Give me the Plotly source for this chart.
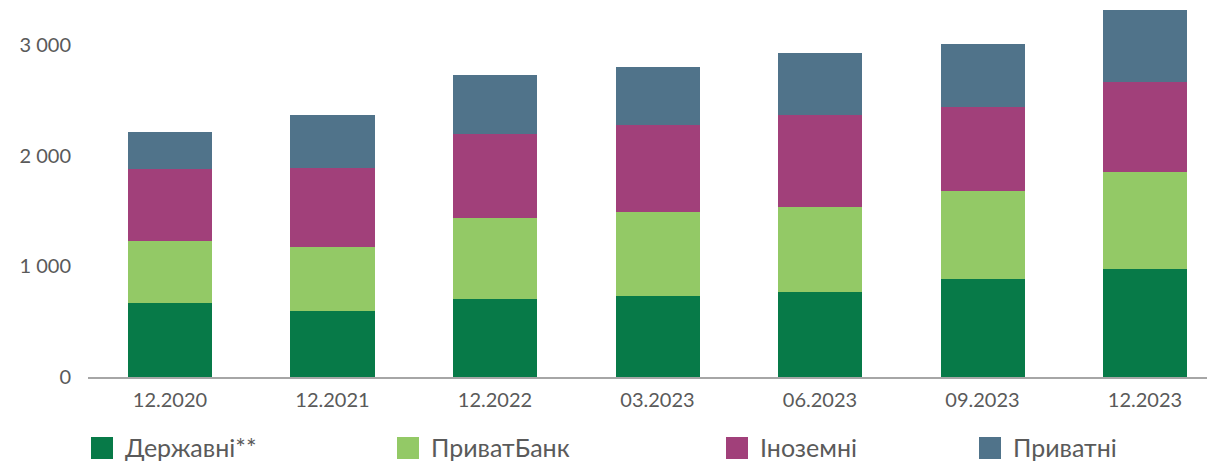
import plotly.graph_objects as go

categories = ["12.2020", "12.2021", "12.2022", "03.2023", "06.2023", "09.2023", "12.2023"]
series_names = ["Державні**", "ПриватБанк", "Іноземні", "Приватні"]
derzhavni = [669, 596, 705, 732, 768, 886, 979]
privatbank = [563, 578, 735, 756, 768, 795, 874]
inozemni = [645, 711, 756, 786, 829, 756, 813]
pryvatni = [337, 482, 533, 530, 566, 572, 651]
y_ticks = [0, 1000, 2000, 3000]

colors = ["#077A48", "#93C966", "#A1407A", "#50738A"]
values = [derzhavni, privatbank, inozemni, pryvatni]

W, H = 1207, 461
L, R, T, B = 88, 0, 0, 84
PW, PH = W - L - R, H - T - B
FONT = "Lato"
TXT = "#5A5A5A"

fig = go.Figure()
for name, vals, col in zip(series_names, values, colors):
    fig.add_trace(go.Bar(x=categories, y=vals, name=name, marker_color=col,
                         marker_line_width=0, width=0.517, showlegend=False,
                         hoverinfo="skip"))

def px_x(px):
    return (px - L) / PW

def px_y(py):
    return (H - B - py) / PH

# manual legend
sq_x = [91, 397, 726, 979]
for name, col, x0 in zip(series_names, colors, sq_x):
    fig.add_shape(type="rect", xref="paper", yref="paper",
                  x0=px_x(x0), x1=px_x(x0 + 22), y0=px_y(459), y1=px_y(437),
                  fillcolor=col, line_width=0)
    fig.add_annotation(xref="paper", yref="paper", x=px_x(x0 + 32), y=px_y(447),
                       xanchor="left", yanchor="middle", text=name, showarrow=False,
                       font=dict(family=FONT, size=25, color=TXT))

yr_top = (H - B) / 0.11067
fig.update_layout(
    width=W, height=H,
    margin=dict(l=L, r=R, t=T, b=B, pad=0),
    barmode="stack",
    plot_bgcolor="white", paper_bgcolor="white",
    separators=". ",
    font=dict(family=FONT, size=20, color=TXT),
    xaxis=dict(range=[-0.5046, 6.3815], showline=True, linecolor="#A6A6A6",
               linewidth=2, ticks="", showgrid=False, ticklabelstandoff=4,
               tickfont=dict(family=FONT, size=20, color=TXT)),
    yaxis=dict(range=[0, yr_top], showgrid=False, zeroline=False, showline=False,
               tickvals=y_ticks, tickformat=",.0f", ticks="", ticklabelstandoff=16,
               tickfont=dict(family=FONT, size=20, color=TXT)),
)

fig.write_html("out.html", config={"displayModeBar": False},
               post_script="document.body.style.margin='0';document.body.style.overflow='hidden';")
